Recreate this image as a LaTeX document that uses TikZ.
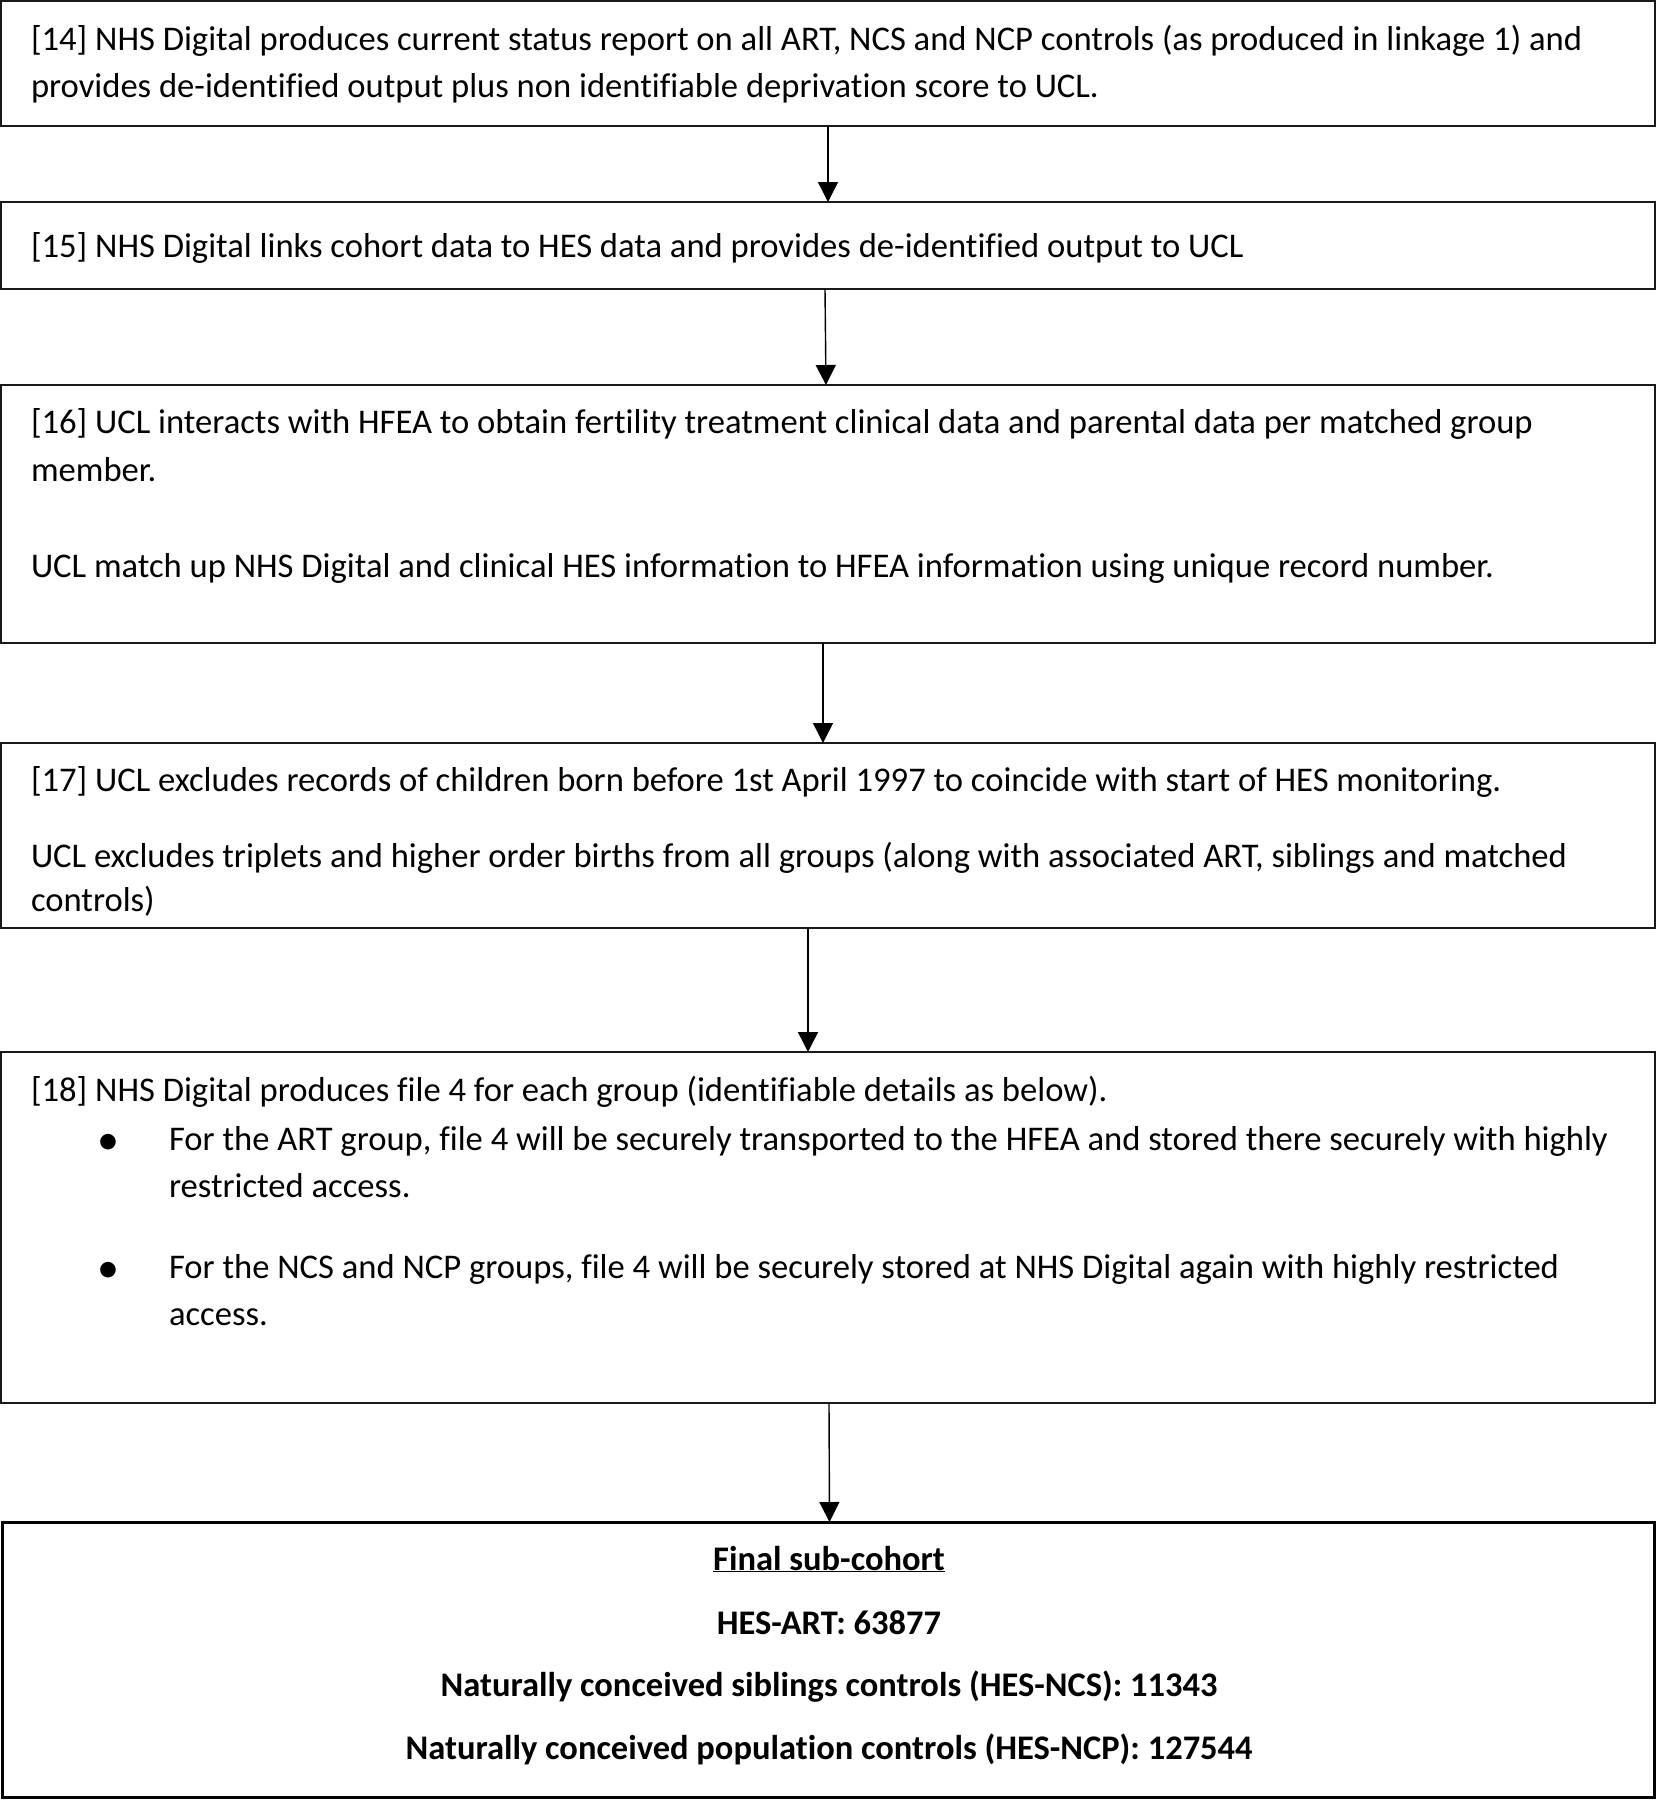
\documentclass[tikz,border=0pt]{standalone}
\usepackage{fontspec}
\setmainfont{Carlito}[Ligatures=NoCommon]
\usetikzlibrary{arrows.meta}
\tikzset{
  box/.style={draw=black!90, line width=2pt, inner sep=0pt, outer sep=0pt, rectangle},
  finalbox/.style={draw=black, line width=3pt, inner sep=0pt, outer sep=0pt, rectangle},
  txt/.style={anchor=base west, inner sep=0pt, outer sep=0pt, font=\fontsize{34.6}{48}\selectfont},
  btxt/.style={anchor=base, inner sep=0pt, outer sep=0pt, font=\fontsize{34.5}{48}\selectfont\bfseries},
  bul/.style={anchor=base, inner sep=0pt, outer sep=0pt, font=\fontsize{44}{48}\selectfont},
  arr/.style={draw=black, line width=1.4pt, -{Triangle[length=20pt,width=20pt]}}
}
\begin{document}
\begin{tikzpicture}[x=1pt,y=-1pt]
\useasboundingbox (0,0) rectangle (1657,1800);
% boxes
\node[box, minimum width=1654pt, minimum height=124.5pt] (b1) at (828,63.25) {};
\node[box, minimum width=1654pt, minimum height=87pt] (b2) at (828,245.5) {};
\node[box, minimum width=1654pt, minimum height=258pt] (b3) at (828,514) {};
\node[box, minimum width=1654pt, minimum height=185pt] (b4) at (828,835.5) {};
\node[box, minimum width=1654pt, minimum height=351pt] (b5) at (828,1227.5) {};
\node[finalbox, minimum width=1652pt, minimum height=275pt] (b6) at (828.5,1659.5) {};
% box 1
\node[txt] (t1a) at (31,50) {[14] NHS Digital produces current status report on all ART, NCS and NCP controls (as produced in linkage 1) and};
\node[txt] (t1b) at (31,97) {provides de-identified output plus non identifiable deprivation score to UCL.};
% box 2
\node[txt] (t2a) at (31,257) {[15] NHS Digital links cohort data to HES data and provides de-identified output to UCL};
% box 3
\node[txt] (t3a) at (31,433) {[16] UCL interacts with HFEA to obtain fertility treatment clinical data and parental data per matched group};
\node[txt] (t3b) at (31,481) {member.};
\node[txt] (t3c) at (31,577) {UCL match up NHS Digital and clinical HES information to HFEA information using unique record number.};
% box 4
\node[txt] (t4a) at (31,791) {[17] UCL excludes records of children born before 1st April 1997 to coincide with start of HES monitoring.};
\node[txt] (t4b) at (31,867) {UCL excludes triplets and higher order births from all groups (along with associated ART, siblings and matched};
\node[txt] (t4c) at (31,911) {controls)};
% box 5
\node[txt] (t5a) at (31,1101) {[18] NHS Digital produces file 4 for each group (identifiable details as below).};
\node[bul] (bu1) at (108,1154) {•};
\node[txt] (t5b) at (169,1150) {For the ART group, file 4 will be securely transported to the HFEA and stored there securely with highly};
\node[txt] (t5c) at (169,1197) {restricted access.};
\node[bul] (bu2) at (108,1282) {•};
\node[txt] (t5d) at (169,1278) {For the NCS and NCP groups, file 4 will be securely stored at NHS Digital again with highly restricted};
\node[txt] (t5e) at (169,1325) {access.};
% box 6
\node[btxt] (t6a) at (829,1570) {\underline{Final sub-cohort}};
\node[btxt] (t6b) at (829,1634) {HES-ART: 63877};
\node[btxt] (t6c) at (829,1696) {Naturally conceived siblings controls (HES-NCS): 11343};
\node[btxt] (t6d) at (829,1759) {Naturally conceived population controls (HES-NCP): 127544};
% arrows
\draw[arr] (b1.south) -- (b2.north);
\draw[arr] ([xshift=-3pt]b2.south) -- ([xshift=-2pt]b3.north);
\draw[arr] ([xshift=-5pt]b3.south) -- ([xshift=-5pt]b4.north);
\draw[arr] ([xshift=-20pt]b4.south) -- ([xshift=-20pt]b5.north);
\draw[arr] ([xshift=1pt]b5.south) -- ([xshift=1pt]b6.north);
\end{tikzpicture}
\end{document}
